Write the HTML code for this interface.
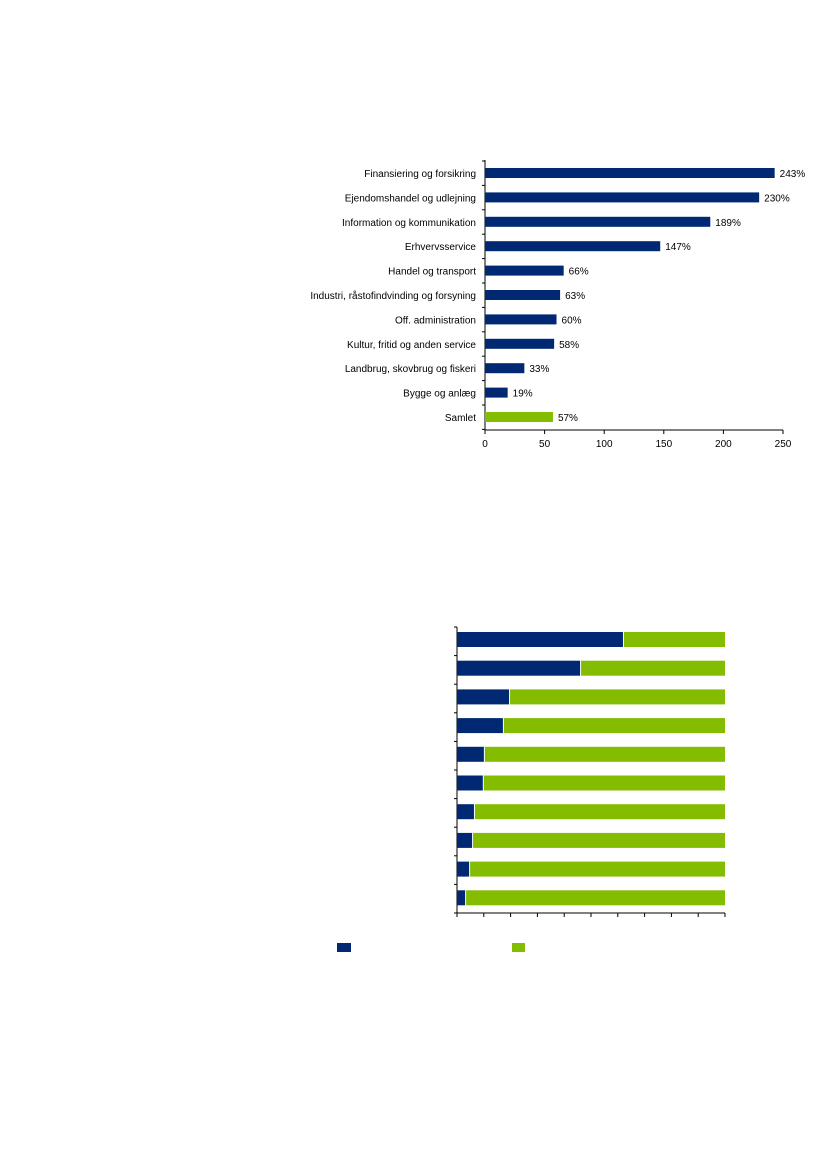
<!DOCTYPE html>
<html><head><meta charset="utf-8"><style>
html,body{margin:0;padding:0;background:#fff;}
svg{display:block;font-family:"Liberation Sans",sans-serif;}
</style></head><body>
<svg id="s" width="827" height="1169" viewBox="0 0 827 1169">
<g id="c1"></g>
<g id="c2"></g>
<rect x="337" y="943" width="14" height="9" fill="#002873"/>
<rect x="512" y="943" width="13" height="9" fill="#84bc00"/>
</svg>
<script>
const categories1=["Finansiering og forsikring","Ejendomshandel  og udlejning","Information og kommunikation","Erhvervsservice","Handel og transport","Industri, råstofindvinding og forsyning ","Off. administration","Kultur, fritid og anden service","Landbrug, skovbrug og fiskeri","Bygge og anlæg","Samlet"];
const values1=[243,230,189,147,66,63,60,58,33,19,57];
const labels1=["243%","230%","189%","147%","66%","63%","60%","58%","33%","19%","57%"];
const ticks1=[0,50,100,150,200,250];
const values2=[62.3,46.3,19.8,17.5,10.4,10,6.7,6,4.9,3.4];
const ticks2=[0,10,20,30,40,50,60,70,80,90,100];
const NS="http://www.w3.org/2000/svg";
function mk(p,t,a){const e=document.createElementNS(NS,t);for(const k in a)e.setAttribute(k,a[k]);p.appendChild(e);return e;}
// chart 1
const g1=document.getElementById('c1');
const x1=v=>485+v*(783-485)/250;
const y1=i=>173+i*24.4;
let ax=mk(g1,'line',{x1:485,y1:160,x2:485,y2:430,stroke:'#000','stroke-width':1});


let bx=mk(g1,'line',{x1:485,y1:430,x2:783,y2:430,stroke:'#000','stroke-width':1});


for(let i=0;i<=categories1.length;i++){const t=mk(g1,'line',{x1:482,y1:161+i*24.4,x2:485,y2:161+i*24.4,stroke:'#000'});}
ticks1.forEach(v=>{const t=mk(g1,'line',{x1:x1(v),y1:430,x2:x1(v),y2:434,stroke:'#000'});


const l=mk(g1,'text',{x:x1(v),y:447,'font-size':10,'text-anchor':'middle',fill:'#000'});l.textContent=v;

});
categories1.forEach((c,i)=>{const y=y1(i);
const l=mk(g1,'text',{x:476,y:y+4,'font-size':10,'text-anchor':'end',fill:'#000'});l.textContent=c;


const b=mk(g1,'rect',{x:485,y:y-5,width:x1(values1[i])-485,height:10,fill:i==categories1.length-1?'#84bc00':'#002873'});


const v=mk(g1,'text',{x:x1(values1[i])+5,y:y+4,'font-size':10,fill:'#000'});v.textContent=labels1[i];

});
// chart 2
const g2=document.getElementById('c2');
const x2=v=>457+v*(725-457)/100;
const y2=i=>632+i*28.7;
let a2=mk(g2,'line',{x1:457,y1:627,x2:457,y2:913,stroke:'#000'});


let b2=mk(g2,'line',{x1:457,y1:913,x2:725,y2:913,stroke:'#000'});


for(let i=0;i<=values2.length;i++){const t=mk(g2,'line',{x1:454,y1:627+i*28.6,x2:457,y2:627+i*28.6,stroke:'#000'});}
ticks2.forEach(v=>{const t=mk(g2,'line',{x1:x2(v),y1:913,x2:x2(v),y2:917,stroke:'#000'});});
values2.forEach((v,i)=>{const y=y2(i);
const gr=mk(g2,'rect',{x:x2(v),y:y,width:x2(100)-x2(v),height:15,fill:'#84bc00'});


const bl=mk(g2,'rect',{x:457,y:y,width:x2(v)-457-1,height:15,fill:'#002873'});

});
</script>
</body></html>
